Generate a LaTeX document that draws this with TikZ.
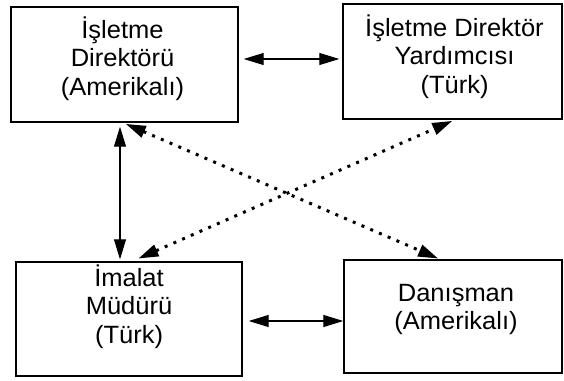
\documentclass[tikz,border=0pt]{standalone}
\usepackage{fontspec}
\setmainfont{Liberation Sans}[FakeStretch=1.02]
\usetikzlibrary{arrows.meta}
\tikzset{
  box/.style={draw, line width=1.4pt, inner sep=0pt},
  txt/.style={align=center, inner sep=0pt},
  arr/.style={line width=1.1pt, >={Triangle[length=20pt,width=12pt]}, <->},
  dots/.style={line width=3pt, dash pattern=on 3pt off 6.5pt,
               >={Triangle[length=20pt,width=12pt]}, <->},
}
\begin{document}
\begin{tikzpicture}[x=1pt, y=-1pt, font=\fontsize{25}{28.5}\selectfont]
\useasboundingbox (0,0) rectangle (564,380);

% the four positions
\node[box, minimum width=227pt, minimum height=115pt,
      label={[txt, name=dirtxt, xshift=-2pt, yshift=6pt]center:{İşletme\\Direktörü\\(Amerikalı)}}]
      (dir) at (124.5,64.5) {};
\node[box, minimum width=219pt, minimum height=115pt,
      label={[txt, name=yardtxt, xshift=2pt, yshift=5pt]center:{İşletme Direktör\\Yardımcısı\\(Türk)}}]
      (yard) at (452.5,61.5) {};
\node[box, minimum width=226pt, minimum height=114pt,
      label={[txt, name=imalattxt, yshift=12.5pt]center:{İmalat\\Müdürü\\(Türk)}}]
      (imalat) at (129,319) {};
\node[box, minimum width=218pt, minimum height=113pt,
      label={[txt, name=danistxt, xshift=3pt, yshift=7pt]center:{Danışman\\(Amerikalı)}}]
      (danis) at (453,316.5) {};

% solid two-way links
\draw[arr, shorten <=5pt, shorten >=3pt]
  ([yshift=5.5pt]dir.east) -- ([yshift=2.5pt]yard.west);
\draw[arr, shorten <=4pt, shorten >=2pt]
  ([xshift=-4.5pt]dir.south) -- ([xshift=-9pt]imalat.north);
\draw[arr, shorten <=6pt]
  ([yshift=-2pt]imalat.east) -- ([yshift=-4.5pt]danis.west);

% dotted two-way links
\draw[dots, shorten <=3pt, shorten >=2pt]
  ([xshift=-1.5pt]dir.south) -- ([xshift=-13pt]danis.north);
\draw[dots, shorten <=7pt, shorten >=3pt]
  ([xshift=3pt]imalat.north) -- ([xshift=2.5pt]yard.south);
\end{tikzpicture}
\end{document}
